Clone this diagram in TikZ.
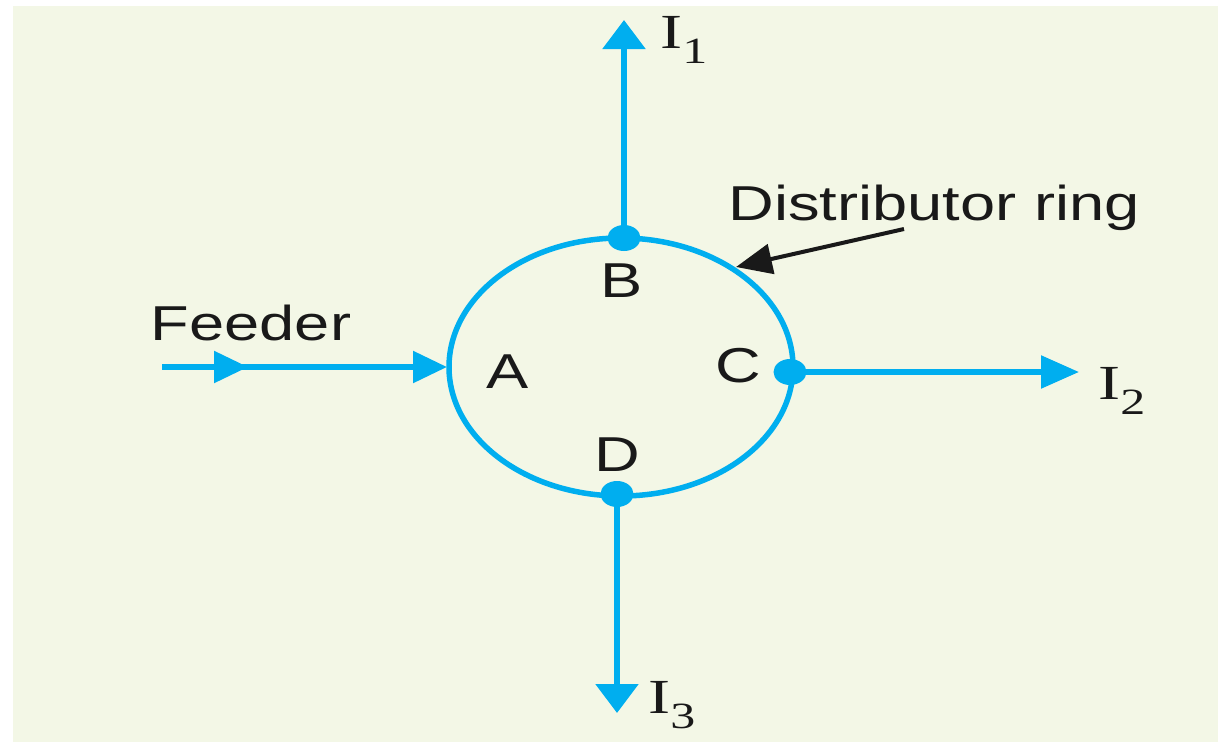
\documentclass[tikz,border=0pt]{standalone}
\usepackage{fontspec}
\usepackage{xcolor}
\usepackage{tikz}
\usetikzlibrary{shapes.geometric,arrows.meta,positioning}
\setmainfont{Liberation Sans}
\newfontfamily\currentfont{Liberation Serif}
\definecolor{panelgreen}{HTML}{F3F7E6}
\definecolor{wireblue}{HTML}{00AEEF}
\newcommand{\curlabel}[1]{I\raisebox{-0.32em}{\fontsize{37}{37}\selectfont #1}}

\begin{document}
\begin{tikzpicture}[x=1pt, y=-1pt]
\tikzstyle{wire} = [draw=wireblue, line width=5.5pt]
\tikzstyle{ring} = [ellipse, draw=wireblue, line width=5.5pt, minimum width=344pt, minimum height=258pt, inner sep=0pt]
\tikzstyle{dot} = [ellipse, fill=wireblue, minimum width=33pt, minimum height=26pt, inner sep=0pt]
\tikzstyle{letter} = [font=\fontsize{49}{49}\selectfont, text=black!90, xscale=1.29, transform shape, inner sep=0pt]
\tikzstyle{current} = [font=\currentfont\fontsize{49}{49}\selectfont, text=black!90, xscale=1.35, transform shape, inner sep=0pt, anchor=base west]

\useasboundingbox (0,0) rectangle (1218,742);
\fill[panelgreen] (13,6) rectangle (1218,742);

% ring and its tapping points
\node[ring] (distring) at (621,367) {};
\node[dot] (dotb) at (624,238) {};
\node[dot] (dotc) at (790,372) {};
\node[dot] (dotd) at (617,494) {};

% free ends
\coordinate (feedstart) at (162,367);
\coordinate (feedmid) at (248,367);
\coordinate (feedend) at (447,367);
\coordinate (endone) at (624,20);
\coordinate (endtwo) at (1079,372);
\coordinate (endthree) at (617,713);
\coordinate (pointerstart) at (904,229);
\coordinate (pointerend) at (736,267);

\node[letter] (lblb) at (622,281) {B};
\node[letter] (lbla) at (508,372) {A};
\node[letter] (lblc) at (738,366) {C};
\node[letter] (lbld) at (617,455) {D};
\node[letter] (feeder) at (251,323) {Feeder};
\node[letter] (ringname) at (934,208) {Distributor ring};

\node[current] (curone) at (660,48) {\curlabel{1}};
\node[current] (curtwo) at (1098,399) {\curlabel{2}};
\node[current] (curthree) at (648,713) {\curlabel{3}};

\draw[wire, -{Triangle[length=29pt,width=42pt]}] (dotb.center) -- (endone);
\draw[wire, -{Triangle[length=38pt,width=32pt]}] (dotc.center) -- (endtwo);
\draw[wire, -{Triangle[length=29pt,width=42pt]}] (dotd.center) -- (endthree);
\draw[wire, -{Triangle[length=34pt,width=31pt]}] (feedstart) -- (feedmid);
\draw[wire, -{Triangle[length=34pt,width=31pt]}] (feedstart) -- (feedend);
\draw[draw=black!90, line width=4pt, -{Triangle[length=36pt,width=30pt]}] (pointerstart) -- (pointerend);
\end{tikzpicture}
\end{document}
